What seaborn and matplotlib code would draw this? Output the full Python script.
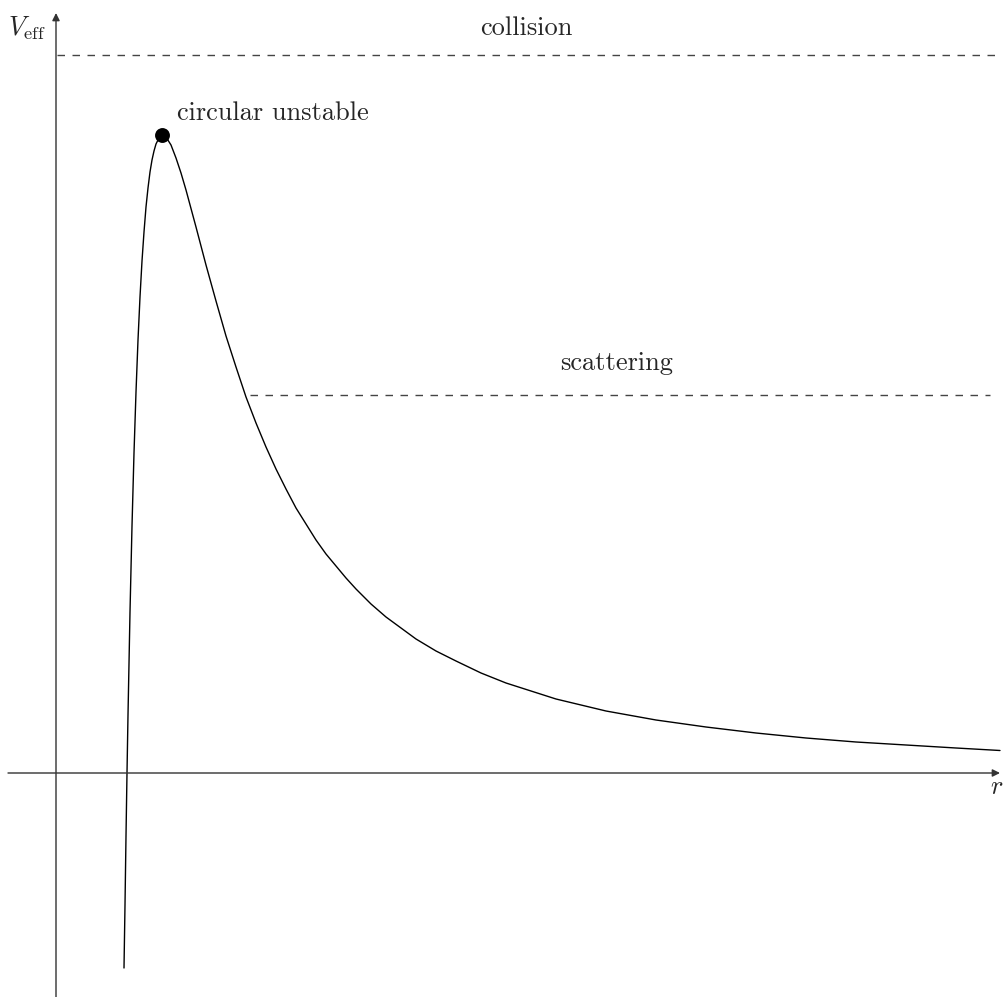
import matplotlib
matplotlib.use("Agg")
import matplotlib.pyplot as plt
import seaborn as sns
import pandas as pd

# Effective potential V_eff(r), sampled along the curve
r_vals = [0.68, 0.69, 0.70, 0.71, 0.72, 0.74, 0.76, 0.78, 0.80, 0.82, 0.84, 0.86,
          0.88, 0.90, 0.92, 0.94, 0.96, 0.98, 1.00, 1.03, 1.06, 1.10, 1.15, 1.20,
          1.25, 1.30, 1.40, 1.50, 1.60, 1.70, 1.80, 1.90, 2.00, 2.10, 2.20, 2.30,
          2.40, 2.50, 2.60, 2.70, 2.80, 2.90, 3.00, 3.15, 3.30, 3.45, 3.60, 3.80,
          4.00, 4.25, 4.50, 4.75, 5.00, 5.50, 6.00, 6.50, 7.00, 7.50, 8.00, 8.50,
          9.00, 9.44]
v_vals = [-1.95, -1.32, -0.63, 0.00, 0.58, 1.61, 2.47, 3.20, 3.81, 4.33, 4.76, 5.12,
          5.41, 5.66, 5.85, 6.01, 6.13, 6.22, 6.29, 6.35, 6.38, 6.36, 6.28, 6.15,
          6.00, 5.83, 5.46, 5.08, 4.72, 4.37, 4.06, 3.76, 3.50, 3.26, 3.04, 2.84,
          2.65, 2.49, 2.33, 2.19, 2.07, 1.95, 1.84, 1.69, 1.56, 1.45, 1.34, 1.22,
          1.12, 1.00, 0.90, 0.82, 0.74, 0.62, 0.53, 0.46, 0.40, 0.35, 0.31, 0.28,
          0.25, 0.225]

# Unstable circular orbit (maximum of the potential)
peak_r = [1.06]
peak_v = [6.38]

# Energy levels
collision_level = 7.18
scattering_level = 3.78
collision_span = [0.01, 9.44]
scattering_span = [1.94, 9.34]

level_labels = ["collision", "scattering", "circular unstable"]

sns.set_theme(style="white")
plt.rcParams["mathtext.fontset"] = "cm"
plt.rcParams["font.family"] = ["cmr10", "DejaVu Serif"]
plt.rcParams["axes.unicode_minus"] = False

fig = plt.figure(figsize=(10.04, 9.97), dpi=100)
ax = fig.add_axes([0, 0, 1, 1])
ax.set_xlim(-0.56, 9.48)
ax.set_ylim(-2.24, 7.73)
ax.axis("off")

axis_color = "#333333"
# coordinate axes with arrow tips
ax.annotate("", xy=(9.44, 0), xytext=(-0.48, 0),
            arrowprops=dict(arrowstyle="-|>", color=axis_color, lw=1.0,
                            mutation_scale=11, shrinkA=0, shrinkB=0))
ax.annotate("", xy=(0, 7.60), xytext=(0, -2.24),
            arrowprops=dict(arrowstyle="-|>", color=axis_color, lw=1.0,
                            mutation_scale=11, shrinkA=0, shrinkB=0))
ax.text(-0.10, 7.45, r"$V_{\mathrm{eff}}$", fontsize=19, ha="right", va="center")
ax.text(9.41, -0.14, r"$r$", fontsize=19, ha="center", va="center")

# dashed energy levels
dash = (0, (5.4, 5.4))
ax.plot(collision_span, [collision_level] * 2, color="#444444", lw=1.0, linestyle=dash)
ax.plot(scattering_span, [scattering_level] * 2, color="#444444", lw=1.0, linestyle=dash)

# the potential curve
df = pd.DataFrame({"r": r_vals, "V": v_vals})
sns.lineplot(data=df, x="r", y="V", ax=ax, color="black", lw=1.0,
             sort=False, estimator=None)

# unstable circular orbit marker
sns.scatterplot(x=peak_r, y=peak_v, ax=ax, color="black", s=115,
                edgecolor="black", linewidth=0, zorder=5)

ax.text(4.70, 7.45, level_labels[0], fontsize=19, ha="center", va="center")
ax.text(5.61, 4.10, level_labels[1], fontsize=19, ha="center", va="center")
ax.text(1.21, 6.60, level_labels[2], fontsize=19, ha="left", va="center")

fig.savefig("out.png", dpi=100)
